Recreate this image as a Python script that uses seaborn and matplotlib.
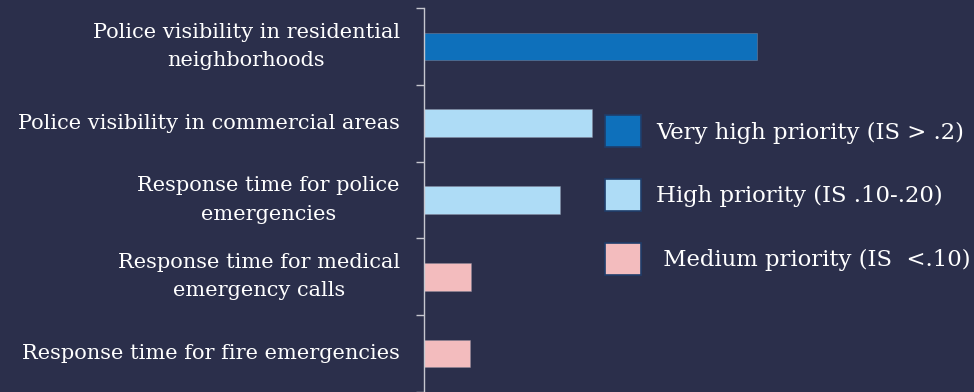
import matplotlib
matplotlib.use("Agg")
import matplotlib.pyplot as plt
from matplotlib.patches import Patch
import seaborn as sns
import pandas as pd

# Service attributes and their importance scores
categories = [
    "Police visibility in residential\nneighborhoods",
    "Police visibility in commercial areas",
    "Response time for police\nemergencies",
    "Response time for medical\nemergency calls",
    "Response time for fire emergencies",
]
scores = [0.260, 0.131, 0.106, 0.037, 0.036]
priority = ["Very high", "High", "High", "Medium", "Medium"]

priority_colors = {"Very high": "#0e70bb", "High": "#aedcf6", "Medium": "#f3bcbe"}
legend_labels = {
    "Very high": "Very high priority (IS > .2)",
    "High": "High priority (IS .10-.20)",
    "Medium": " Medium priority (IS  <.10)",
}

bg = "#2b2f4b"
fg = "#ffffff"
axis_col = "#c6c7cf"

sns.set_theme(style="white")
plt.rcParams["font.family"] = ["DejaVu Serif"]

df = pd.DataFrame({"category": categories, "score": scores, "priority": priority})

fig = plt.figure(figsize=(9.74, 3.92), dpi=100, facecolor=bg)
ax = fig.add_axes([424 / 974, 0.0, 1 - 424 / 974, 384 / 392])
ax.set_facecolor(bg)

sns.barplot(
    data=df, x="score", y="category", hue="priority",
    palette=priority_colors, dodge=False, width=0.36, saturation=1,
    orient="h", ax=ax, legend=False,
    edgecolor=(0.55, 0.55, 0.62, 0.6), linewidth=0.5,
)

ax.set_xlim(0, 550 / 1281)
ax.set_ylim(4.5, -0.5)
ax.set_xlabel("")
ax.set_ylabel("")
ax.set_xticks([])

# Boundary ticks between rows; category names centred on each row
n = len(categories)
ax.set_yticks([i - 0.5 for i in range(n + 1)])
ax.set_yticklabels([])
ax.tick_params(axis="y", which="major", left=True, length=6, width=1.0,
               color=axis_col, direction="out")
for i, name in enumerate(categories):
    ax.annotate(name, xy=(0, i), xycoords=("axes fraction", "data"),
                xytext=(-17.3, 0), textcoords="offset points",
                ha="right", va="center", multialignment="center",
                linespacing=1.62, color=fg, fontsize=15.0, annotation_clip=False)

for side in ["top", "right", "bottom"]:
    ax.spines[side].set_visible(False)
ax.spines["left"].set_color(axis_col)
ax.spines["left"].set_linewidth(1.0)

handles = [Patch(facecolor=priority_colors[k], edgecolor="#1f3d6a", linewidth=1.2)
           for k in ["Very high", "High", "Medium"]]
labels = [legend_labels[k] for k in ["Very high", "High", "Medium"]]
leg = fig.legend(
    handles, labels, loc="center left", bbox_to_anchor=(605 / 974, 1 - 195 / 392),
    frameon=False, fontsize=16.4, handlelength=1.6, handleheight=1.8,
    handletextpad=0.65, labelspacing=1.38, borderpad=0, borderaxespad=0,
)
for t in leg.get_texts():
    t.set_color(fg)

fig.savefig("out.png", dpi=100, facecolor=bg)
